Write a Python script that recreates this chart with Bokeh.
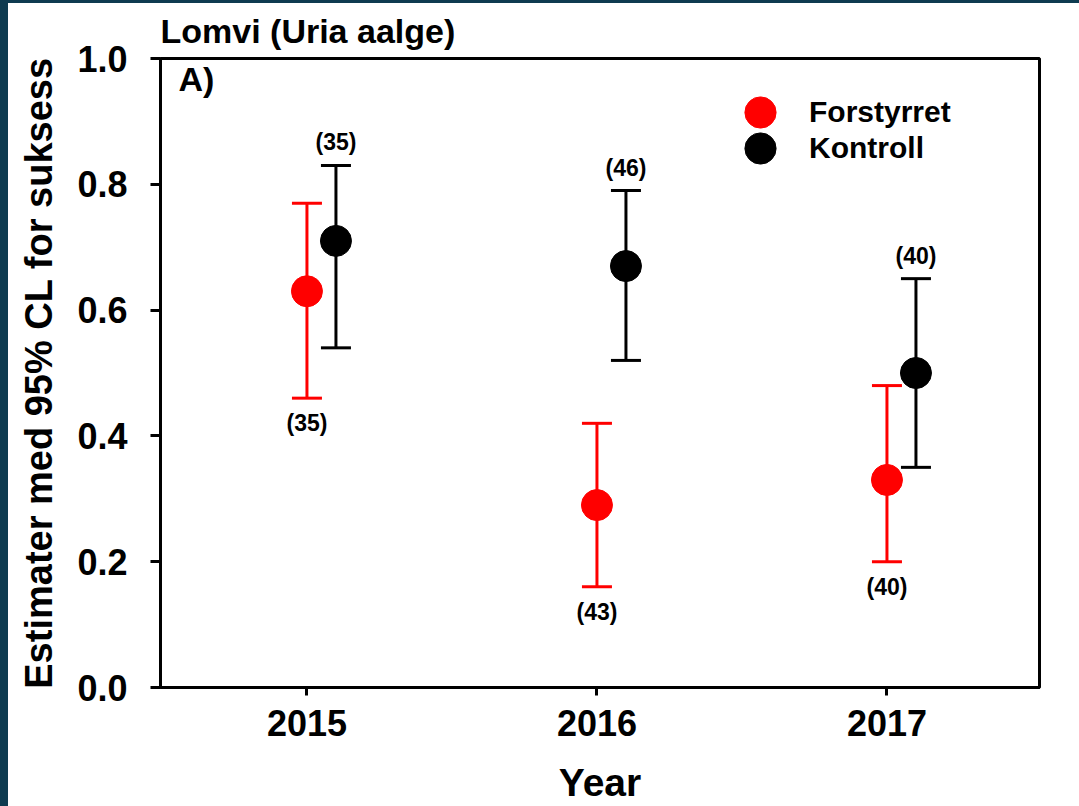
from bokeh.plotting import figure
from bokeh.models import (Range1d, FixedTicker, NumeralTickFormatter, ColumnDataSource,
                          Whisker, TeeHead, Legend, LegendItem, Label)
from bokeh.core.properties import value
from bokeh.embed import file_html
from bokeh.resources import INLINE

# ---- data ----
years = [2015, 2016, 2017]
forst_est = [0.63, 0.29, 0.33]
forst_lo = [0.46, 0.16, 0.20]
forst_hi = [0.77, 0.42, 0.48]
forst_n = ["(35)", "(43)", "(40)"]
kontr_est = [0.71, 0.67, 0.50]
kontr_lo = [0.54, 0.52, 0.35]
kontr_hi = [0.83, 0.79, 0.65]
kontr_n = ["(35)", "(46)", "(40)"]
kontr_shift = 0.1
y_ticks = [0.0, 0.2, 0.4, 0.6, 0.8, 1.0]
x_ticks = [2015, 2016, 2017]
series_names = ["Forstyrret", "Kontroll"]

FONT = "Liberation Sans"
RED = "#ff0000"
BLACK = "#000000"
TEAL = "#0e3b50"

x_start, x_end = 2014.495, 2017.526

p = figure(width=1079, height=806, x_range=Range1d(x_start, x_end), y_range=Range1d(0, 1),
           output_backend="svg", toolbar_location=None,
           min_border_left=160, min_border_right=40, min_border_top=58, min_border_bottom=119)
p.background_fill_color = "white"
p.border_fill_alpha = 0
p.styles = {"background": (f"linear-gradient({TEAL},{TEAL}) left top / 8px 100% no-repeat, "
                           f"linear-gradient({TEAL},{TEAL}) left top / 100% 3px no-repeat, white")}
p.outline_line_color = BLACK
p.outline_line_width = 3
p.xgrid.visible = False
p.ygrid.visible = False

# title
p.title.text = "Lomvi (Uria aalge)"
p.title.text_font = FONT
p.title.text_font_size = "34px"
p.title.text_font_style = "bold"
p.title.text_color = BLACK
p.title.align = "left"
p.title.standoff = 17

# axes
for ax in (p.xaxis[0], p.yaxis[0]):
    ax.axis_line_color = BLACK
    ax.axis_line_width = 3
    ax.major_tick_line_color = BLACK
    ax.major_tick_line_width = 3
    ax.major_tick_in = 0
    ax.minor_tick_line_color = None
    ax.major_label_text_font = FONT
    ax.major_label_text_font_size = "36px"
    ax.major_label_text_font_style = "bold"
    ax.major_label_text_color = BLACK
    ax.axis_label_text_font = FONT
    ax.axis_label_text_font_style = "bold"
    ax.axis_label_text_color = BLACK

p.xaxis.ticker = FixedTicker(ticks=x_ticks)
p.xaxis.formatter = NumeralTickFormatter(format="0")
p.xaxis.major_tick_out = 8
p.xaxis.major_label_standoff = 14
p.xaxis.axis_label = "Year"
p.xaxis.axis_label_text_font_size = "39px"
p.xaxis.axis_label_standoff = 22

p.yaxis.ticker = FixedTicker(ticks=y_ticks)
p.yaxis.formatter = NumeralTickFormatter(format="0.0")
p.yaxis.major_tick_out = 10
p.yaxis.major_label_standoff = 23
p.yaxis.axis_label = "Estimater med 95% CL for suksess"
p.yaxis.axis_label_text_font_size = "38px"
p.yaxis.axis_label_standoff = 14

# sources
src_f = ColumnDataSource(dict(x=years, est=forst_est, lo=forst_lo, hi=forst_hi, n=forst_n))
src_k = ColumnDataSource(dict(x=[y + kontr_shift for y in years], est=kontr_est, lo=kontr_lo,
                              hi=kontr_hi, n=kontr_n))

for src, col in ((src_f, RED), (src_k, BLACK)):
    w = Whisker(base="x", lower="lo", upper="hi", source=src, line_color=col, line_width=3,
                lower_head=TeeHead(size=30, line_color=col, line_width=3),
                upper_head=TeeHead(size=30, line_color=col, line_width=3))
    p.add_layout(w)

r_f = p.scatter("x", "est", source=src_f, size=31, fill_color=RED, line_color=RED, marker="circle")
r_k = p.scatter("x", "est", source=src_k, size=31, fill_color=BLACK, line_color=BLACK, marker="circle")

# n labels
p.text("x", "lo", text="n", source=src_f, y_offset=25, text_align="center", text_baseline="middle",
       text_font=value(FONT), text_font_style="bold", text_font_size="23px", text_color=BLACK)
p.text("x", "hi", text="n", source=src_k, y_offset=-23, text_align="center", text_baseline="middle",
       text_font=value(FONT), text_font_style="bold", text_font_size="23px", text_color=BLACK)

# panel label
p.add_layout(Label(x=x_start, y=1.0, x_offset=18, y_offset=-1, text="A)", text_baseline="top",
                   text_font=FONT, text_font_style="bold", text_font_size="34px", text_color=BLACK))

# legend: one legend per row so that rows sit close together
common = dict(glyph_width=78, glyph_height=78, label_standoff=10, padding=0, margin=0,
              border_line_color=None, background_fill_alpha=0, label_text_font=FONT,
              label_text_font_style="bold", label_text_font_size="30px", label_text_color=BLACK)
leg1 = Legend(items=[LegendItem(label=series_names[0], renderers=[r_f])], location=(561, 536), **common)
leg2 = Legend(items=[LegendItem(label=series_names[1], renderers=[r_k])], location=(561, 500), **common)
p.add_layout(leg1)
p.add_layout(leg2)

open("out.html", "w").write(file_html(p, INLINE))
